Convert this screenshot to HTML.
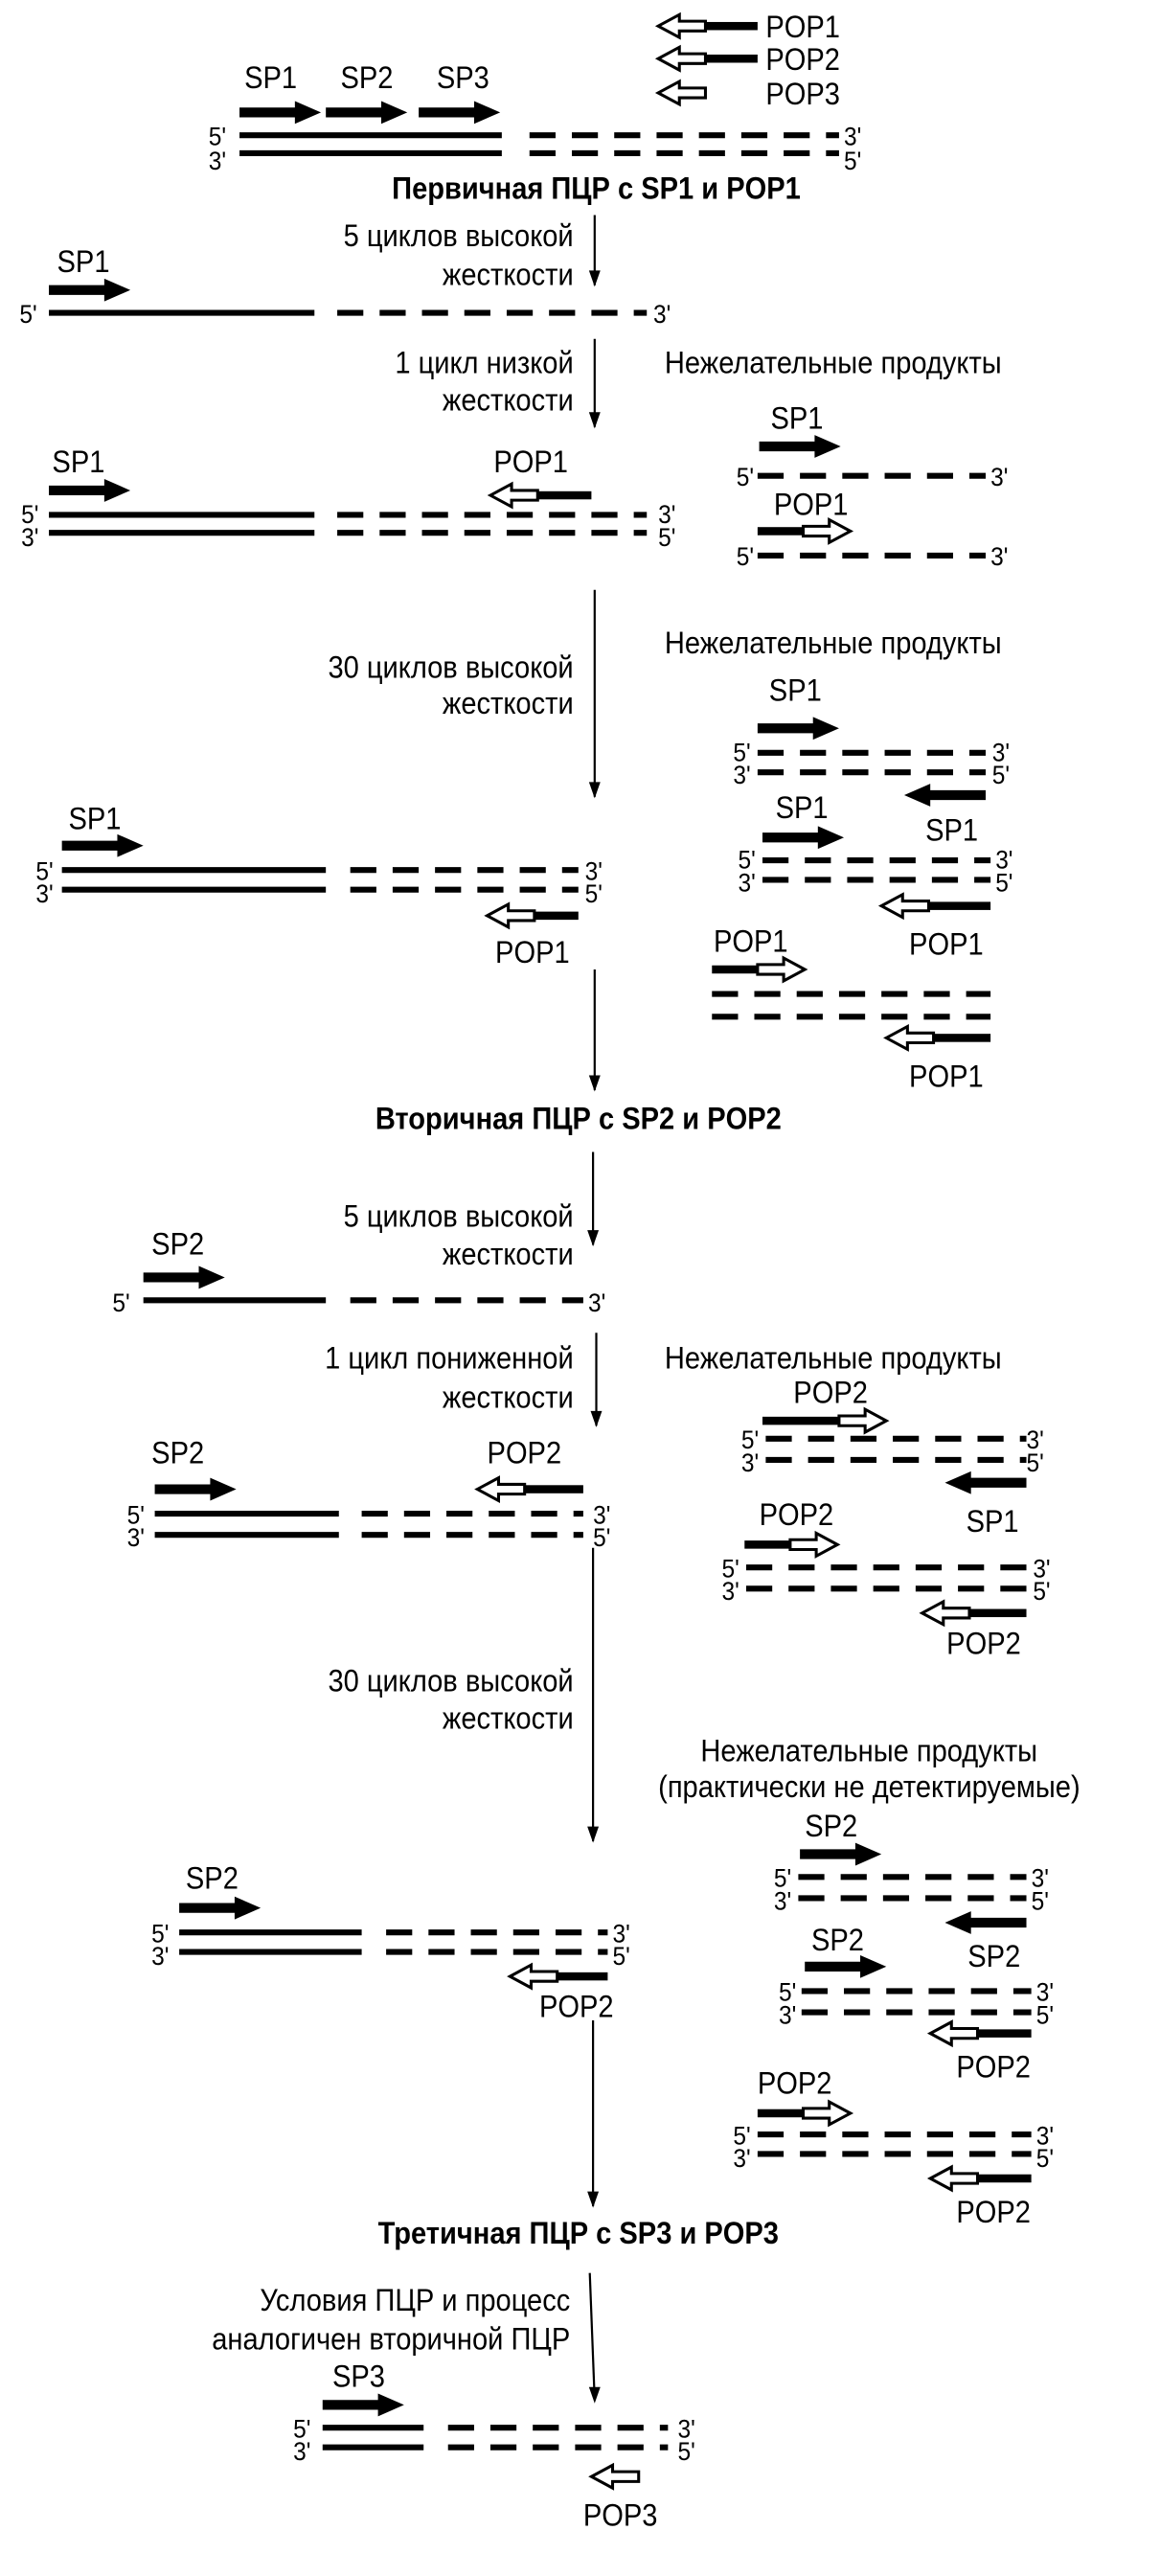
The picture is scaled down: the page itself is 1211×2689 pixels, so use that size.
<!DOCTYPE html>
<html><head><meta charset="utf-8"><style>
html,body{margin:0;padding:0;background:#fff}
svg{display:block}
text{font-family:"Liberation Sans Narrow","Liberation Sans",sans-serif;font-size:19px;fill:#000;transform-box:fill-box;transform:scaleX(.9);transform-origin:left center}
.b{font-weight:bold}
.r{text-anchor:end;transform-origin:right center}
.m{text-anchor:middle;transform-origin:center center}
.s{font-size:16px}
.sl{stroke:#000;stroke-width:3.6;fill:none}
.dl{stroke:#000;stroke-width:3.6;fill:none;stroke-dasharray:16 10}
.v{stroke:#000;stroke-width:1.3;fill:none}
</style></head><body>
<svg width="1211" height="2689" viewBox="0 0 712 1581" xmlns="http://www.w3.org/2000/svg">
<defs>
<path id="sa" d="M0,-3 H34 V-7 L50,0 L34,7 V3 H0 Z" fill="#000"/>
<path id="ha" d="M1,0 L14,-7 V-3 H30 V3 H14 V7 Z" fill="#fff" stroke="#000" stroke-width="1.8"/>
<path id="ah" d="M-3.5,-10 L0,0 L3.5,-10 Z" fill="#000"/>
</defs>

<!-- legend -->
<use href="#ha" transform="translate(403,16)"/><rect x="433" y="13.5" width="32" height="5"/>
<text x="470" y="23">POP1</text>
<use href="#ha" transform="translate(403,36)"/><rect x="433" y="33.5" width="32" height="5"/>
<text x="470" y="43">POP2</text>
<use href="#ha" transform="translate(403,57)"/>
<text x="470" y="64">POP3</text>

<text x="150" y="54">SP1</text><text x="209" y="54">SP2</text><text x="268" y="54">SP3</text>
<use href="#sa" transform="translate(147,69)"/><use href="#sa" transform="translate(200,69)"/><use href="#sa" transform="translate(257,69)"/>
<line class="sl" x1="147" y1="83" x2="308" y2="83"/><line class="dl" x1="325" y1="83" x2="515" y2="83"/>
<line class="sl" x1="147" y1="94" x2="308" y2="94"/><line class="dl" x1="325" y1="94" x2="515" y2="94"/>
<text class="s" x="128" y="89">5'</text><text class="s" x="128" y="104">3'</text>
<text class="s" x="518" y="89">3'</text><text class="s" x="518" y="104">5'</text>
<text class="b m" x="366" y="122">Первичная ПЦР с SP1 и POP1</text>

<line class="v" x1="365" y1="132" x2="365" y2="175"/><use href="#ah" transform="translate(365,176)"/>
<text class="r" x="352" y="151">5 циклов высокой</text><text class="r" x="352" y="175">жесткости</text>

<text x="35" y="167">SP1</text>
<use href="#sa" transform="translate(30,178)"/>
<line class="sl" x1="30" y1="192" x2="193" y2="192"/><line class="dl" x1="207" y1="192" x2="397" y2="192"/>
<text class="s" x="12" y="198">5'</text><text class="s" x="401" y="198">3'</text>

<line class="v" x1="365" y1="208" x2="365" y2="262"/><use href="#ah" transform="translate(365,263)"/>
<text class="r" x="352" y="229">1 цикл низкой</text><text class="r" x="352" y="252">жесткости</text>
<text x="408" y="229">Нежелательные продукты</text>

<text x="32" y="290">SP1</text>
<use href="#sa" transform="translate(30,301)"/>
<text x="303" y="290">POP1</text>
<use href="#ha" transform="translate(300,304)"/><rect x="330" y="301.5" width="33" height="5"/>
<line class="sl" x1="30" y1="316" x2="193" y2="316"/><line class="dl" x1="207" y1="316" x2="397" y2="316"/>
<line class="sl" x1="30" y1="327" x2="193" y2="327"/><line class="dl" x1="207" y1="327" x2="397" y2="327"/>
<text class="s" x="13" y="321">5'</text><text class="s" x="13" y="335">3'</text>
<text class="s" x="404" y="321">3'</text><text class="s" x="404" y="335">5'</text>

<text x="473" y="263">SP1</text>
<use href="#sa" transform="translate(466,274)"/>
<line class="dl" x1="465" y1="292" x2="605" y2="292"/>
<text class="s" x="452" y="298">5'</text><text class="s" x="608" y="298">3'</text>
<text x="475" y="316">POP1</text>
<rect x="465" y="323.5" width="28" height="5"/><use href="#ha" transform="translate(523,326) scale(-1,1)"/>
<line class="dl" x1="465" y1="341" x2="605" y2="341"/>
<text class="s" x="452" y="347">5'</text><text class="s" x="608" y="347">3'</text>

<line class="v" x1="365" y1="362" x2="365" y2="489"/><use href="#ah" transform="translate(365,490)"/>
<text class="r" x="352" y="416">30 циклов высокой</text><text class="r" x="352" y="438">жесткости</text>
<text x="408" y="401">Нежелательные продукты</text>

<text x="472" y="430">SP1</text>
<use href="#sa" transform="translate(465,447)"/>
<line class="dl" x1="465" y1="462" x2="605" y2="462"/><line class="dl" x1="465" y1="474" x2="605" y2="474"/>
<text class="s" x="450" y="467">5'</text><text class="s" x="450" y="481">3'</text>
<text class="s" x="609" y="467">3'</text><text class="s" x="609" y="481">5'</text>
<use href="#sa" transform="translate(605,488) scale(-1,1)"/>
<text x="568" y="516">SP1</text>
<text x="476" y="502">SP1</text>
<use href="#sa" transform="translate(468,514)"/>
<line class="dl" x1="468" y1="528" x2="608" y2="528"/><line class="dl" x1="468" y1="540" x2="608" y2="540"/>
<text class="s" x="453" y="533">5'</text><text class="s" x="453" y="547">3'</text>
<text class="s" x="611" y="533">3'</text><text class="s" x="611" y="547">5'</text>
<use href="#ha" transform="translate(540,556)"/><rect x="570" y="553.5" width="38" height="5"/>
<text x="558" y="586">POP1</text>
<text x="438" y="584">POP1</text>
<rect x="437" y="592.5" width="28" height="5"/><use href="#ha" transform="translate(495,595) scale(-1,1)"/>
<line class="dl" x1="437" y1="610" x2="608" y2="610"/><line class="dl" x1="437" y1="624" x2="608" y2="624"/>
<use href="#ha" transform="translate(543,637)"/><rect x="573" y="634.5" width="35" height="5"/>
<text x="558" y="667">POP1</text>

<text x="42" y="509">SP1</text>
<use href="#sa" transform="translate(38,519)"/>
<line class="sl" x1="38" y1="534" x2="200" y2="534"/><line class="dl" x1="215" y1="534" x2="355" y2="534"/>
<line class="sl" x1="38" y1="546" x2="200" y2="546"/><line class="dl" x1="215" y1="546" x2="355" y2="546"/>
<text class="s" x="22" y="540">5'</text><text class="s" x="22" y="554">3'</text>
<text class="s" x="359" y="540">3'</text><text class="s" x="359" y="554">5'</text>
<use href="#ha" transform="translate(298,562)"/><rect x="328" y="559.5" width="27" height="5"/>
<text x="304" y="591">POP1</text>

<line class="v" x1="365" y1="595" x2="365" y2="669"/><use href="#ah" transform="translate(365,670)"/>
<text class="b m" x="355" y="693">Вторичная ПЦР с SP2 и POP2</text>

<line class="v" x1="364" y1="707" x2="364" y2="764"/><use href="#ah" transform="translate(364,765)"/>
<text class="r" x="352" y="753">5 циклов высокой</text><text class="r" x="352" y="776">жесткости</text>

<text x="93" y="770">SP2</text>
<use href="#sa" transform="translate(88,784)"/>
<line class="sl" x1="88" y1="798" x2="200" y2="798"/><line class="dl" x1="215" y1="798" x2="358" y2="798"/>
<text class="s" x="69" y="805">5'</text><text class="s" x="361" y="805">3'</text>

<line class="v" x1="366" y1="818" x2="366" y2="875"/><use href="#ah" transform="translate(366,876)"/>
<text class="r" x="352" y="840">1 цикл пониженной</text><text class="r" x="352" y="864">жесткости</text>
<text x="408" y="840">Нежелательные продукты</text>

<text x="487" y="861">POP2</text>
<rect x="468" y="869.5" width="47" height="5"/><use href="#ha" transform="translate(545,872) scale(-1,1)"/>
<line class="dl" x1="470" y1="883" x2="630" y2="883"/><line class="dl" x1="470" y1="896" x2="630" y2="896"/>
<text class="s" x="455" y="889">5'</text><text class="s" x="455" y="903">3'</text>
<text class="s" x="630" y="889">3'</text><text class="s" x="630" y="903">5'</text>
<use href="#sa" transform="translate(630,910) scale(-1,1)"/>
<text x="593" y="940">SP1</text>
<text x="466" y="936">POP2</text>
<rect x="457" y="945.5" width="28" height="5"/><use href="#ha" transform="translate(515,948) scale(-1,1)"/>
<line class="dl" x1="458" y1="962" x2="630" y2="962"/><line class="dl" x1="458" y1="975" x2="630" y2="975"/>
<text class="s" x="443" y="968">5'</text><text class="s" x="443" y="982">3'</text>
<text class="s" x="634" y="968">3'</text><text class="s" x="634" y="982">5'</text>
<use href="#ha" transform="translate(565,990)"/><rect x="595" y="987.5" width="35" height="5"/>
<text x="581" y="1015">POP2</text>

<text x="93" y="898">SP2</text>
<use href="#sa" transform="translate(95,914)"/>
<text x="299" y="898">POP2</text>
<use href="#ha" transform="translate(292,914)"/><rect x="322" y="911.5" width="36" height="5"/>
<line class="sl" x1="95" y1="929" x2="208" y2="929"/><line class="dl" x1="222" y1="929" x2="358" y2="929"/>
<line class="sl" x1="95" y1="942" x2="208" y2="942"/><line class="dl" x1="222" y1="942" x2="358" y2="942"/>
<text class="s" x="78" y="935">5'</text><text class="s" x="78" y="949">3'</text>
<text class="s" x="364" y="935">3'</text><text class="s" x="364" y="949">5'</text>

<line class="v" x1="364" y1="950" x2="364" y2="1130"/><use href="#ah" transform="translate(364,1131)"/>
<text class="r" x="352" y="1038">30 циклов высокой</text><text class="r" x="352" y="1061">жесткости</text>
<text x="430" y="1081">Нежелательные продукты</text>
<text x="404" y="1103">(практически не детектируемые)</text>

<text x="494" y="1127">SP2</text>
<use href="#sa" transform="translate(491,1138)"/>
<line class="dl" x1="490" y1="1152" x2="630" y2="1152"/><line class="dl" x1="490" y1="1165" x2="630" y2="1165"/>
<text class="s" x="475" y="1158">5'</text><text class="s" x="475" y="1172">3'</text>
<text class="s" x="633" y="1158">3'</text><text class="s" x="633" y="1172">5'</text>
<use href="#sa" transform="translate(630,1180) scale(-1,1)"/>
<text x="594" y="1207">SP2</text>
<text x="498" y="1197">SP2</text>
<use href="#sa" transform="translate(494,1207)"/>
<line class="dl" x1="492" y1="1222" x2="633" y2="1222"/><line class="dl" x1="492" y1="1235" x2="633" y2="1235"/>
<text class="s" x="478" y="1228">5'</text><text class="s" x="478" y="1242">3'</text>
<text class="s" x="636" y="1228">3'</text><text class="s" x="636" y="1242">5'</text>
<use href="#ha" transform="translate(570,1248)"/><rect x="600" y="1245.5" width="33" height="5"/>
<text x="587" y="1275">POP2</text>
<text x="465" y="1285">POP2</text>
<rect x="465" y="1294.5" width="28" height="5"/><use href="#ha" transform="translate(523,1297) scale(-1,1)"/>
<line class="dl" x1="465" y1="1310" x2="633" y2="1310"/><line class="dl" x1="465" y1="1322" x2="633" y2="1322"/>
<text class="s" x="450" y="1316">5'</text><text class="s" x="450" y="1330">3'</text>
<text class="s" x="636" y="1316">3'</text><text class="s" x="636" y="1330">5'</text>
<use href="#ha" transform="translate(570,1337)"/><rect x="600" y="1334.5" width="33" height="5"/>
<text x="587" y="1364">POP2</text>

<text x="114" y="1159">SP2</text>
<use href="#sa" transform="translate(110,1171)"/>
<line class="sl" x1="110" y1="1186" x2="222" y2="1186"/><line class="dl" x1="237" y1="1186" x2="373" y2="1186"/>
<line class="sl" x1="110" y1="1198" x2="222" y2="1198"/><line class="dl" x1="237" y1="1198" x2="373" y2="1198"/>
<text class="s" x="93" y="1192">5'</text><text class="s" x="93" y="1206">3'</text>
<text class="s" x="376" y="1192">3'</text><text class="s" x="376" y="1206">5'</text>
<use href="#ha" transform="translate(312,1213)"/><rect x="342" y="1210.5" width="31" height="5"/>
<text x="331" y="1238">POP2</text>

<line class="v" x1="364" y1="1240" x2="364" y2="1354"/><use href="#ah" transform="translate(364,1355)"/>
<text class="b m" x="355" y="1377">Третичная ПЦР с SP3 и POP3</text>

<line class="v" x1="362" y1="1395" x2="365" y2="1473"/><use href="#ah" transform="translate(365,1475)"/>
<text class="r" x="350" y="1418">Условия ПЦР и процесс</text>
<text class="r" x="350" y="1442">аналогичен вторичной ПЦР</text>

<text x="204" y="1465">SP3</text>
<use href="#sa" transform="translate(198,1476)"/>
<line class="sl" x1="198" y1="1490" x2="260" y2="1490"/><line class="dl" x1="275" y1="1490" x2="410" y2="1490"/>
<line class="sl" x1="198" y1="1502" x2="260" y2="1502"/><line class="dl" x1="275" y1="1502" x2="410" y2="1502"/>
<text class="s" x="180" y="1496">5'</text><text class="s" x="180" y="1510">3'</text>
<text class="s" x="416" y="1496">3'</text><text class="s" x="416" y="1510">5'</text>
<use href="#ha" transform="translate(362,1520)"/>
<text x="358" y="1550">POP3</text>
</svg>
</body></html>
